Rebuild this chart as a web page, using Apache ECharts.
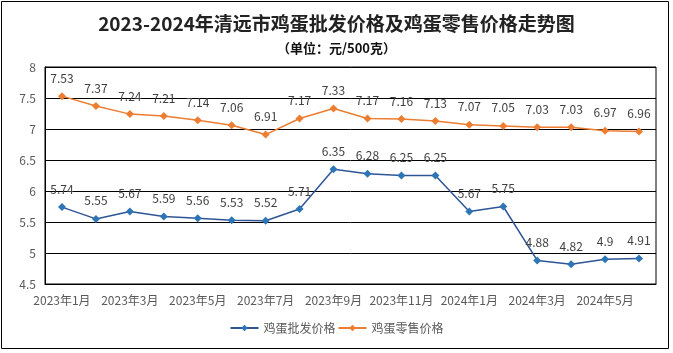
<!DOCTYPE html>
<html><head><meta charset="utf-8">
<script src="https://cdn.jsdelivr.net/npm/echarts@6/dist/echarts.min.js"></script>
<style>html,body{margin:0;padding:0;background:#fff}#c{width:673px;height:353px}</style>
</head><body><div id="c"></div>
<script>
const categories = ['2023年1月','2023年2月','2023年3月','2023年4月','2023年5月','2023年6月','2023年7月','2023年8月','2023年9月','2023年10月','2023年11月','2023年12月','2024年1月','2024年2月','2024年3月','2024年4月','2024年5月','2024年6月'];
const wholesale = [5.74,5.55,5.67,5.59,5.56,5.53,5.52,5.71,6.35,6.28,6.25,6.25,5.67,5.75,4.88,4.82,4.9,4.91];
const retail = [7.53,7.37,7.24,7.21,7.14,7.06,6.91,7.17,7.33,7.17,7.16,7.13,7.07,7.05,7.03,7.03,6.97,6.96];
const yTicks = {min:4.5, max:8, interval:0.5};

const chart = echarts.init(document.getElementById('c'));
const font = "'Microsoft YaHei','Noto Sans CJK SC',sans-serif";
chart.setOption({
  animation:false,
  textStyle:{fontFamily:font},
  graphic:[{type:'rect',shape:{x:1.5,y:1.5,width:667,height:347},style:{fill:'none',stroke:'#000',lineWidth:1}}],
  title:[{text:'2023-2024年清远市鸡蛋批发价格及鸡蛋零售价格走势图',left:'center',top:9,textStyle:{fontSize:19,fontWeight:'bold',color:'#222',fontFamily:"'Noto Sans CJK SC',serif"}},
         {text:'（单位：元/500克）',left:'center',top:37,textStyle:{fontSize:13,fontWeight:'bold',color:'#111',fontFamily:"'Noto Sans CJK SC',sans-serif"}}],
  legend:{bottom:14,left:'center',itemGap:2,itemWidth:28,itemHeight:8,textStyle:{fontSize:12,color:'#595959'},
    data:['鸡蛋批发价格','鸡蛋零售价格']},
  grid:{left:45,right:17,top:67,bottom:69,show:true,borderColor:'#000',borderWidth:1},
  xAxis:{type:'category',data:categories,boundaryGap:true,
    axisLine:{lineStyle:{color:'#000'}},
    axisTick:{inside:true,length:5,interval:1,lineStyle:{color:'#000'}},
    axisLabel:{interval:1,color:'#595959',fontSize:12,margin:10}},
  yAxis:{type:'value',min:yTicks.min,max:yTicks.max,interval:yTicks.interval,
    axisLine:{show:true,lineStyle:{color:'#000'}},axisTick:{show:false},
    axisLabel:{color:'#595959',fontSize:12,margin:9},
    splitLine:{lineStyle:{color:'#000',width:1}}},
  series:[
    {name:'鸡蛋批发价格',type:'line',data:wholesale,symbol:'diamond',symbolSize:8,
     itemStyle:{color:'#2E75B6'},lineStyle:{color:'#2F5597',width:1.5},
     label:{show:true,position:'top',distance:8,color:'#404040',fontSize:12}},
    {name:'鸡蛋零售价格',type:'line',data:retail,symbol:'diamond',symbolSize:8,
     itemStyle:{color:'#ED7D31'},lineStyle:{color:'#ED7D31',width:1.5},
     label:{show:true,position:'top',distance:8,color:'#404040',fontSize:12}}
  ]
});
</script></body></html>
